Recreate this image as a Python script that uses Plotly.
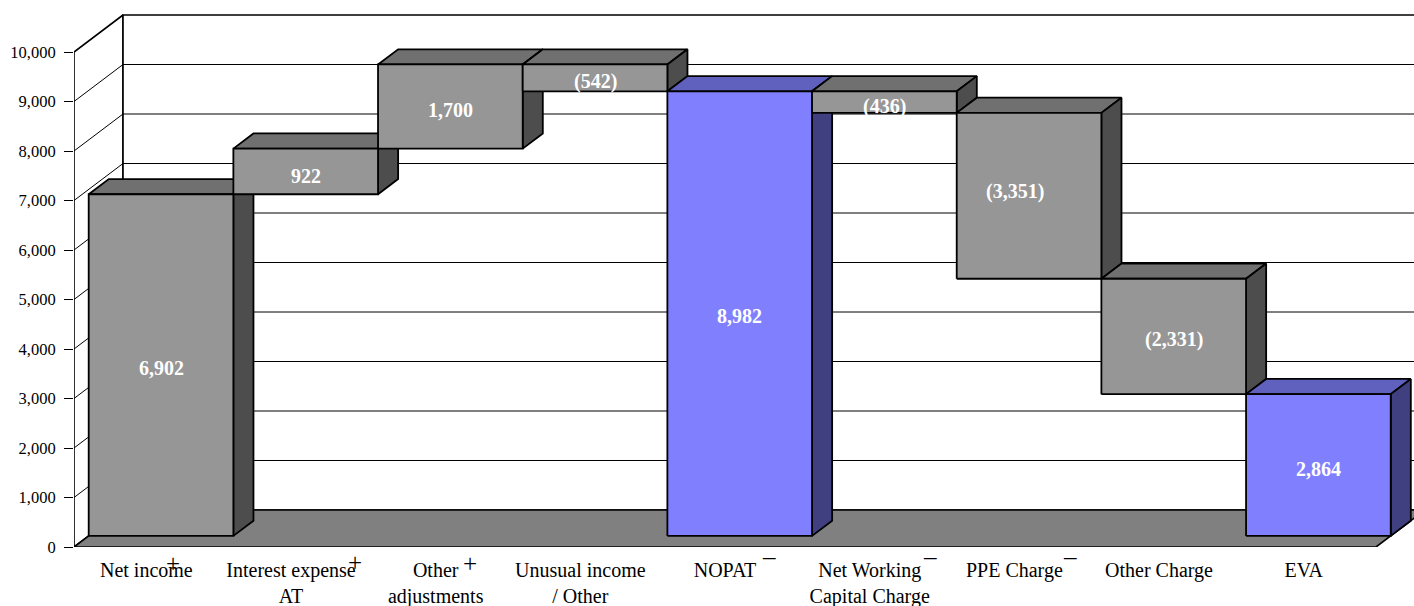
import plotly.graph_objects as go

# Waterfall from net income to EVA
categories = ["Net income", "Interest expense<br>AT", "Other<br>adjustments", "Unusual income<br>/ Other",
              "NOPAT", "Net Working<br>Capital Charge", "PPE Charge", "Other Charge", "EVA"]
steps = [6902, 922, 1700, -542, 8982, -436, -3351, -2331, 2864]
is_total = [False, False, False, False, True, False, False, False, True]
step_labels = ["6,902", "922", "1,700", "(542)", "8,982", "(436)", "(3,351)", "(2,331)", "2,864"]
axis_ticks = [0, 1000, 2000, 3000, 4000, 5000, 6000, 7000, 8000, 9000, 10000]

# Pixel scale of the page and the oblique projection of the depth axis
FONT = "Liberation Serif"
CAT_PX = 144.67
UNIT_PX = 0.0495
LEFT_PX, BOTTOM_PX = 74, 59
PAGE_W, PAGE_H = 1414, 606
DEPTH_X = 49 / CAT_PX
DEPTH_Y = 37 / UNIT_PX
BAR_NEAR, BAR_FAR = 0.30, 0.71

GREY = dict(front="#969696", top="#707070", side="#4d4d4d")
BLUE = dict(front="#8080ff", top="#6060bf", side="#404080")
INK = "#000000"


def project(cat, value, depth):
    return cat + depth * DEPTH_X, value + depth * DEPTH_Y


def polygon(corners, fill, width=1.8):
    pts = [project(*c) for c in corners] + [project(*corners[0])]
    return go.Scatter(x=[p[0] for p in pts], y=[p[1] for p in pts], mode="lines", fill="toself",
                      fillcolor=fill, line=dict(color=INK, width=width), hoverinfo="skip", showlegend=False)


def polyline(corners, width=1.0, color=INK):
    pts = [project(*c) for c in corners]
    return go.Scatter(x=[p[0] for p in pts], y=[p[1] for p in pts], mode="lines",
                      line=dict(color=color, width=width), hoverinfo="skip", showlegend=False)


fig = go.Figure()
x0, x1 = -0.5, len(categories) - 0.5
top = axis_ticks[-1]

# Walls and floor
fig.add_trace(polygon([(x0, 0, 0), (x0, top, 0), (x0, top, 1), (x0, 0, 1)], "#ffffff", 1.6))
fig.add_trace(polygon([(x0, 0, 1), (x0, top, 1), (x1, top, 1), (x1, 0, 1)], "#ffffff", 1.6))
for t in axis_ticks[1:-1]:
    fig.add_trace(polyline([(x0, t, 0), (x0, t, 1), (x1, t, 1)]))
fig.add_trace(polygon([(x0, 0, 0), (x1, 0, 0), (x1, 0, 1), (x0, 0, 1)], "#808080", 1.6))

# Floating bars, painted left to right so each front covers the previous side
level = 0
label_levels = []
for i, step in enumerate(steps):
    if is_total[i]:
        low, high = 0, step
        level = step
    else:
        start, level = level, level + step
        low, high = min(start, level), max(start, level)
    label_levels.append((low + high) / 2)
    colors = BLUE if is_total[i] else GREY
    a, b = i - 0.5, i + 0.5
    n, f = BAR_NEAR, BAR_FAR
    fig.add_trace(polygon([(a, high, n), (b, high, n), (b, high, f), (a, high, f)], colors["top"]))
    fig.add_trace(polygon([(b, low, n), (b, high, n), (b, high, f), (b, low, f)], colors["side"]))
    fig.add_trace(polygon([(a, low, n), (b, low, n), (b, high, n), (a, high, n)], colors["front"]))

annotations = []

# Step values on the bar fronts; the long PPE label sits a little left of centre
label_nudge = [3, 5, 3, 4, 2, 4, -4, 3, 4]
label_side = [0, 0, 0, 0, 0, 0, -14, 0, 0]
for i, text in enumerate(step_labels):
    lx, ly = project(i, label_levels[i], BAR_NEAR)
    annotations.append(dict(x=lx, y=ly, xref="x", yref="y", text=text, showarrow=False,
                            xanchor="center", yanchor="middle",
                            xshift=label_side[i], yshift=-label_nudge[i],
                            font=dict(family=FONT, size=20, color="#ffffff", weight="bold")))

# Plus and minus signs beside the category names
sign_marks = [(0, "+", 27, 16), (1, "+", 64, 15), (2, "+", 34, 16),
              (4, "\u2013", 44, 9), (5, "\u2013", 60, 9), (6, "\u2013", 56, 9)]
for i, mark, dx, dy in sign_marks:
    annotations.append(dict(x=i, y=0, xref="x", yref="y", text=mark, showarrow=False,
                            xanchor="center", yanchor="middle", xshift=dx, yshift=-dy,
                            font=dict(family=FONT, size=25, color="#000000")))

fig.update_layout(
    width=PAGE_W, height=PAGE_H,
    margin=dict(l=LEFT_PX, r=0, t=0, b=BOTTOM_PX, pad=0),
    paper_bgcolor="#ffffff", plot_bgcolor="#ffffff",
    showlegend=False, annotations=annotations,
    xaxis=dict(range=[x0, x0 + (PAGE_W - LEFT_PX) / CAT_PX], tickmode="array", automargin=False,
               tickvals=list(range(len(categories))), ticktext=categories,
               showgrid=False, zeroline=False, showline=False, ticks="", ticklabelstandoff=9,
               tickangle=0, tickfont=dict(family=FONT, size=20, color="#000000")),
    yaxis=dict(range=[0, (PAGE_H - BOTTOM_PX) / UNIT_PX], tickmode="array", tickvals=axis_ticks,
               automargin=False, tickformat=",", showgrid=False, zeroline=False, showline=False,
               ticks="outside", ticklen=9, tickwidth=1, tickcolor="#000000", ticklabelstandoff=5,
               tickfont=dict(family=FONT, size=16.5, color="#000000")),
)

fig.write_html("out.html", config=dict(displayModeBar=False, responsive=False))
